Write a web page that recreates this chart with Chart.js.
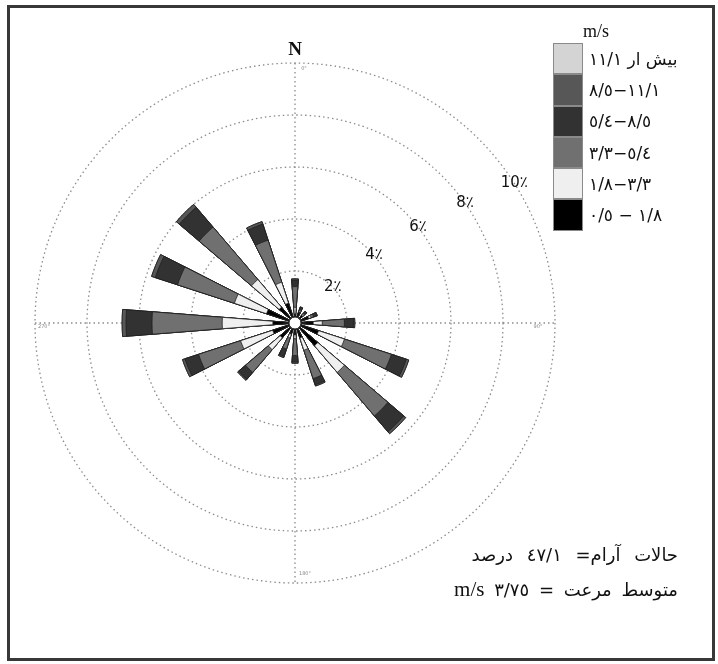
<!DOCTYPE html>
<html><head><meta charset="utf-8">
<script src="https://cdn.jsdelivr.net/npm/chart.js@4.4.1/dist/chart.umd.min.js"></script>
<style>
html,body{margin:0;padding:0;background:#fff;}
#wrap{position:relative;width:718px;height:664px;overflow:hidden;background:#fff;}
#c{position:absolute;left:0;top:0;}
#frame{position:absolute;left:7px;top:5px;width:702px;height:650px;border:3px solid #383838;pointer-events:none;}
#north{position:absolute;left:275px;top:38px;width:40px;text-align:center;font:bold 19px "Liberation Serif",serif;color:#111;}
#legend{position:absolute;left:553px;top:19px;}
#legend .title{font:18px "Liberation Serif",serif;margin-left:30px;height:24px;line-height:24px;color:#111;}
.row{display:flex;align-items:center;height:31.3px;}
.sw{width:30px;height:31.3px;box-sizing:border-box;border:1px solid #8a8a8a;}
.lab{margin-left:6px;font:17px "DejaVu Sans",sans-serif;white-space:pre;color:#111;display:flex;direction:ltr;}
.notes{position:absolute;right:40px;font:18px "DejaVu Sans",sans-serif;white-space:nowrap;color:#111;word-spacing:4px;}
#note1{word-spacing:8px;letter-spacing:0.3px;}
.latin{font:21px "Liberation Serif",serif;}
</style></head>
<body>
<div id="wrap">
<canvas id="c" width="718" height="664"></canvas>
<div id="frame"></div>
<div id="north">N</div>
<div id="legend"><div class="title">m/s</div></div>
<div class="notes" id="note1" dir="rtl" style="top:544px"></div>
<div class="notes" id="note2" dir="rtl" style="top:577px"></div>
</div>
<script>
// ---- data ----
const directions = ['N','NNE','NE','ENE','E','ESE','SE','SSE','S','SSW','SW','WSW','W','WNW','NW','NNW'];
// frequency (%) per speed class, per direction
const cls05_18  = [0.35,0.45,0.40,0.55,0.70,0.95,1.15,0.60,0.45,0.45,0.75,0.90,0.85,1.15,0.80,0.80];
const cls18_33  = [0.25,0.05,0.05,0.10,0.35,1.05,1.35,0.50,0.15,0.15,0.60,1.30,1.95,1.30,1.40,0.85];
const cls33_54  = [0.80,0.05,0.05,0.10,0.85,1.90,2.20,1.15,0.65,0.45,1.15,1.70,2.70,2.30,2.65,1.70];
const cls54_85  = [0.25,0.10,0.10,0.15,0.35,0.60,0.80,0.25,0.25,0.30,0.35,0.55,1.00,0.90,1.00,0.65];
const cls85_111 = [0.05,0.00,0.00,0.00,0.05,0.10,0.10,0.05,0.05,0.05,0.05,0.10,0.15,0.15,0.15,0.10];
const clsOver111= [0,0,0,0,0,0,0,0,0,0,0,0,0,0,0,0];
const classLabels = [  // legend, top to bottom; pieces placed left to right
  ['بیش ار ١١/١'],
  ['٨/٥','−','١١/١'],
  ['٥/٤','−','٨/٥'],
  ['٣/٣','−','٥/٤'],
  ['١/٨','−','٣/٣'],
  ['٠/٥',' − ','١/٨']
];
const ringTicks = [2,4,6,8,10];
const ringTickLabels = ['2٪','4٪','6٪','8٪','10٪'];
const compassTicks = ['0°','90°','180°','270°'];
const calmText = 'حالات آرام= ٤٧/١ درصد';
const meanText = 'متوسط مرعت = ٣/٧٥';
const meanUnit = 'm/s';

// ---- styles ----
const BAR = 9; // degrees of each petal
const classesInner = [cls05_18, cls18_33, cls33_54, cls54_85, cls85_111, clsOver111];
const colorsInner = ['#000000','#efefef','#707070','#323232','#575757','#d4d4d4'];

// cumulative stacks
const cum = [];
let run = directions.map(()=>0);
classesInner.forEach(a=>{ run = run.map((v,i)=>v+a[i]); cum.push(run.slice()); });

const labels = [];
directions.forEach(d=>{labels.push(d); labels.push('');});
const datasets = cum.map((vals,k)=>{
  const data=[]; vals.forEach(v=>{data.push(v); data.push(0);});
  return {
    data,
    backgroundColor: colorsInner[k],
    borderColor: '#1e1e1e',
    borderWidth: c => (c.dataIndex % 2 ? 0 : 0.8),
    angle: c => (c.dataIndex % 2 ? 360/directions.length - BAR : BAR)
  };
});

// legend
const leg = document.getElementById('legend');
const colorsTopDown = colorsInner.slice().reverse();
classLabels.forEach((pieces,i)=>{
  const r=document.createElement('div'); r.className='row';
  const sw=document.createElement('div'); sw.className='sw'; sw.style.background=colorsTopDown[i];
  const lab=document.createElement('div'); lab.className='lab';
  pieces.forEach(p=>{const s=document.createElement('span'); s.textContent=p; lab.appendChild(s);});
  r.appendChild(sw); r.appendChild(lab); leg.appendChild(r);
});
document.getElementById('note1').textContent = calmText;
const n2 = document.getElementById('note2');
n2.appendChild(document.createTextNode(meanText + ' '));
const u = document.createElement('span'); u.className='latin'; u.textContent=meanUnit; n2.appendChild(u);

const decor = {
  id:'decor',
  beforeDatasetsDraw(chart){
    const s=chart.scales.r, ctx=chart.ctx, R=s.getDistanceFromCenterForValue(s.max);
    ctx.save();
    ctx.strokeStyle='#8c8c8c'; ctx.lineWidth=1.3; ctx.setLineDash([1.5,3]);
    ctx.beginPath();
    ctx.moveTo(s.xCenter, s.yCenter-R); ctx.lineTo(s.xCenter, s.yCenter+R);
    ctx.moveTo(s.xCenter-R, s.yCenter); ctx.lineTo(s.xCenter+R, s.yCenter);
    ctx.stroke();
    ctx.restore();
  },
  afterDatasetsDraw(chart){
    const s=chart.scales.r, ctx=chart.ctx, R=s.getDistanceFromCenterForValue(s.max);
    ctx.save();
    ctx.beginPath(); ctx.arc(s.xCenter, s.yCenter, 6, 0, Math.PI*2);
    ctx.fillStyle='#fff'; ctx.fill(); ctx.lineWidth=1; ctx.strokeStyle='#222'; ctx.stroke();
    // ring labels
    ctx.fillStyle='#111'; ctx.font='15px "DejaVu Sans"'; ctx.textAlign='center'; ctx.textBaseline='middle';
    ringTicks.forEach((v,i)=>{
      const r=s.getDistanceFromCenterForValue(v);
      const b=(44+1.35*v)*Math.PI/180;
      ctx.fillText(ringTickLabels[i], s.xCenter + r*Math.sin(b), s.yCenter - r*Math.cos(b));
    });
    // tiny compass labels
    ctx.fillStyle='#888'; ctx.font='5px "DejaVu Sans"';
    ctx.fillText(compassTicks[0], s.xCenter+9, s.yCenter-R+6);
    ctx.fillText(compassTicks[1], s.xCenter+R-17, s.yCenter+4);
    ctx.fillText(compassTicks[2], s.xCenter+10, s.yCenter+R-9);
    ctx.fillText(compassTicks[3], s.xCenter-R+9, s.yCenter+4);
    ctx.restore();
  }
};

new Chart(document.getElementById('c'), {
  type:'polarArea',
  data:{labels, datasets},
  options:{
    responsive:false, animation:false, events:[],
    layout:{padding:{left:35, top:63, right:163, bottom:81}},
    plugins:{legend:{display:false}, tooltip:{enabled:false}},
    scales:{r:{
      min:0, max:10, startAngle:-BAR/2,
      ticks:{display:false, stepSize:2},
      grid:{color:'#8c8c8c', lineWidth:1.3, circular:true},
      border:{dash:[1.5,3]},
      angleLines:{display:false},
      pointLabels:{display:false}
    }}
  },
  plugins:[decor]
});
</script>
</body></html>
